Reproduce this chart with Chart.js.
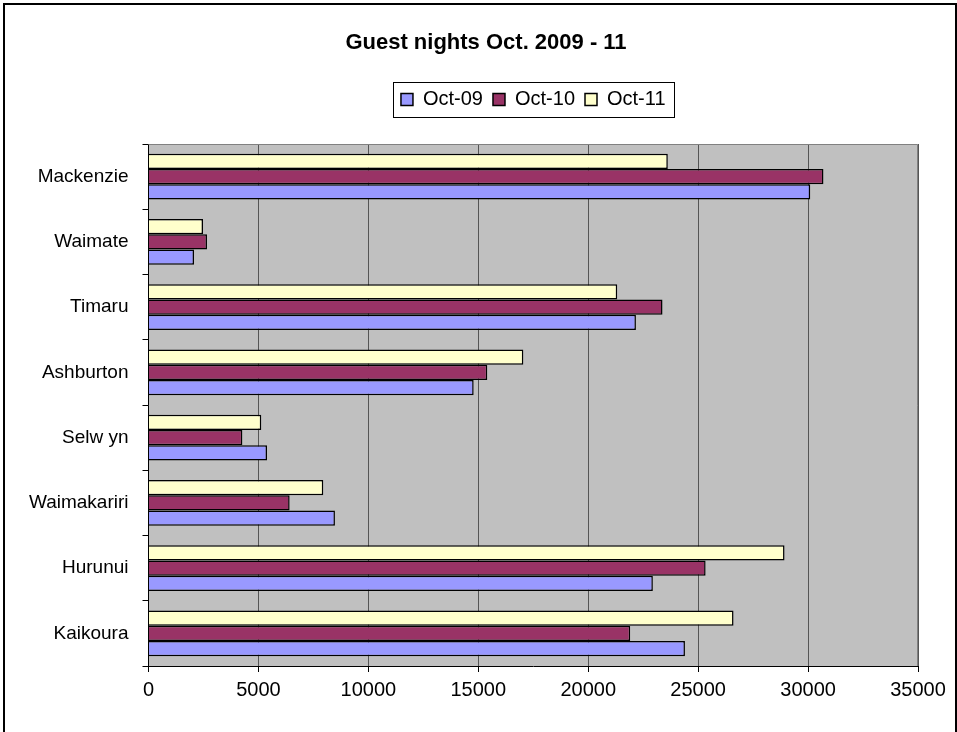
<!DOCTYPE html>
<html>
<head>
<meta charset="utf-8">
<script src="https://cdn.jsdelivr.net/npm/chart.js@4"></script>
<style>
  html, body { margin: 0; padding: 0; background: #fff; overflow: hidden; }
  #frame { position: absolute; left: 3px; top: 3px; width: 950px; height: 800px; border: 2px solid #000; }
  #chart { position: absolute; left: 0; top: 0; }
</style>
</head>
<body>
<div id="frame"></div>
<canvas id="chart" width="957" height="732"></canvas>
<script>
// categories, top to bottom as shown
const districts = ['Mackenzie', 'Waimate', 'Timaru', 'Ashburton', 'Selw yn', 'Waimakariri', 'Hurunui', 'Kaikoura'];
const oct09 = [30100, 2070, 22170, 14790, 5390, 8480, 22940, 24400];
const oct10 = [30700, 2660, 23380, 15410, 4270, 6420, 25340, 21910];
const oct11 = [23620, 2480, 21320, 17050, 5130, 7950, 28930, 26610];
const xTicks = [0, 5000, 10000, 15000, 20000, 25000, 30000, 35000];

const font = 'Liberation Sans, Arial, sans-serif';

// grey plot background + grey frame on top/right
const plotBg = {
    id: 'plotBg',
    beforeDraw(chart) {
        const a = chart.chartArea, ctx = chart.ctx;
        ctx.save();
        ctx.fillStyle = '#C0C0C0';
        ctx.fillRect(a.left, a.top, a.right - a.left, a.bottom - a.top);
        ctx.restore();
    },
    afterDatasetsDraw(chart) {
        const a = chart.chartArea, ctx = chart.ctx;
        ctx.save();
        ctx.strokeStyle = '#808080';
        ctx.lineWidth = 1;
        ctx.beginPath();
        ctx.moveTo(a.left, a.top + 0.5);
        ctx.lineTo(a.right - 0.5, a.top + 0.5);
        ctx.lineTo(a.right - 0.5, a.bottom);
        ctx.stroke();
        ctx.restore();
    }
};

// title sits a bit right of the canvas centre in the original
const titleShift = {
    id: 'titleShift',
    afterLayout(chart) {
        const t = chart.titleBlock;
        if (t) { t.left += 22; t.right += 22; }
    }
};

// box round the legend, like the excel one
const legendBox = {
    id: 'legendBox',
    afterDraw(chart) {
        const hb = chart.legend.legendHitBoxes;
        if (!hb || !hb.length) return;
        const left = Math.min(...hb.map(h => h.left)) - 8;
        const right = Math.max(...hb.map(h => h.left + h.width)) + 8;
        const top = hb[0].top - 7.5;
        const bottom = hb[0].top + hb[0].height + 7.5;
        const ctx = chart.ctx;
        ctx.save();
        ctx.strokeStyle = '#000';
        ctx.lineWidth = 1;
        ctx.strokeRect(Math.round(left) + 0.5, Math.round(top) + 0.5, Math.round(right - left), Math.round(bottom - top));
        ctx.restore();
    }
};

new Chart(document.getElementById('chart'), {
    type: 'bar',
    data: {
        labels: districts,
        datasets: [{
            label: 'Oct-11',
            data: oct11,
            backgroundColor: '#FFFFCC',
            borderColor: '#000',
            borderWidth: 1.5
        }, {
            label: 'Oct-10',
            data: oct10,
            backgroundColor: '#993366',
            borderColor: '#000',
            borderWidth: 1.5
        }, {
            label: 'Oct-09',
            data: oct09,
            backgroundColor: '#9999FF',
            borderColor: '#000',
            borderWidth: 1.5
        }]
    },
    options: {
        indexAxis: 'y',
        responsive: false,
        animation: false,
        categoryPercentage: 0.70,
        barPercentage: 1,
        layout: { padding: { left: 10, right: 39, top: 0, bottom: 0 } },
        plugins: {
            title: {
                display: true,
                text: 'Guest nights Oct. 2009 - 11',
                color: '#000',
                font: { family: font, size: 22, weight: 'bold' },
                padding: { top: 29.3, bottom: 23.8 }
            },
            subtitle: {
                // spacer between legend and plot
                display: true,
                text: ' ',
                weight: 500,
                font: { size: 10 },
                padding: { top: 12.5, bottom: 0 }
            },
            legend: {
                position: 'top',
                fullSize: false,
                reverse: true,
                labels: {
                    color: '#000',
                    font: { family: font, size: 20 },
                    boxWidth: 12,
                    boxHeight: 12,
                    padding: 10
                }
            },
            tooltip: { enabled: false }
        },
        scales: {
            x: {
                min: 0,
                max: 35000,
                afterBuildTicks(scale) {
                    scale.ticks = xTicks.map(v => ({ value: v }));
                },
                afterFit(scale) { scale.height = 66; },
                ticks: {
                    color: '#000',
                    font: { family: font, size: 20 },
                    padding: 6,
                    maxRotation: 0,
                    callback: v => String(v)
                },
                grid: { color: '#555', tickColor: '#000', tickLength: 6, lineWidth: 1 },
                border: { color: '#000', width: 1 }
            },
            y: {
                afterFit(scale) { scale.width = 138.5; },
                ticks: {
                    color: '#000',
                    font: { family: font, size: 19 },
                    padding: 14
                },
                grid: { offset: true, drawOnChartArea: false, tickColor: '#000', tickLength: 6 },
                border: { color: '#000', width: 1 }
            }
        }
    },
    plugins: [plotBg, titleShift, legendBox]
});
</script>
</body>
</html>
